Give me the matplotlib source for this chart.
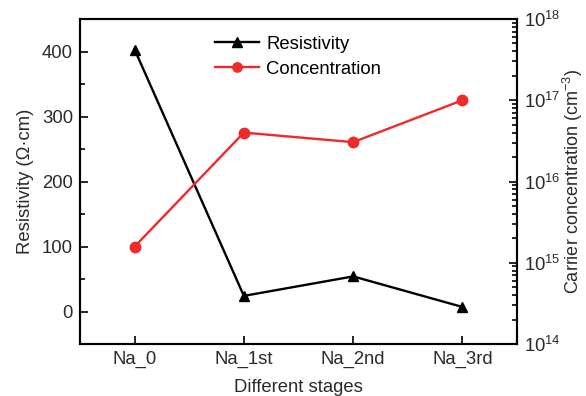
import numpy as np
import matplotlib
matplotlib.use("Agg")
import matplotlib.pyplot as plt
from matplotlib.ticker import LogLocator, NullFormatter, MultipleLocator

plt.rcParams['font.family'] = ['Liberation Sans', 'DejaVu Sans']
plt.rcParams['mathtext.fontset'] = 'custom'
plt.rcParams['mathtext.rm'] = 'Liberation Sans'

stages = ["Na_0", "Na_1st", "Na_2nd", "Na_3rd"]
resistivity = [403, 24, 54, 7]
concentration = [1.58e15, 4.0e16, 3.05e16, 1.0e17]

col_red = '#ee2a2a'
txt = '#2a2a2a'

fig = plt.figure(figsize=(5.86, 3.96), dpi=100)
ax = fig.add_axes([80/586, 1-344/396, 437/586, 325/396])
ax2 = ax.twinx()

x = np.arange(len(stages))
l1, = ax.plot(x, resistivity, '-^', color='black', lw=1.7, ms=7.5, label='Resistivity')
l2, = ax2.plot(x, concentration, '-o', color=col_red, lw=1.7, ms=7.5, label='Concentration')

ax.set_xlim(-0.5, 3.5)
ax.set_ylim(-50, 450)
ax.yaxis.set_major_locator(MultipleLocator(100))
ax.yaxis.set_minor_locator(MultipleLocator(50))
ax.set_xticks(x)
ax.set_xticklabels(stages)

ax2.set_yscale('log')
ax2.set_ylim(1e14, 1e18)
ax2.yaxis.set_major_locator(LogLocator(base=10, numticks=10))
ax2.yaxis.set_minor_locator(LogLocator(base=10, subs=np.arange(2, 10), numticks=10))
ax2.yaxis.set_minor_formatter(NullFormatter())

for a in (ax, ax2):
    for s in a.spines.values():
        s.set_linewidth(1.5)
    a.tick_params(which='both', direction='in', width=1.2, labelsize=13.3,
                  colors='black', labelcolor=txt, pad=5)
    a.tick_params(which='major', length=6)
    a.tick_params(which='minor', length=3.5)

ax.set_xlabel('Different stages', fontsize=13.3, color=txt, labelpad=8)
ax.set_ylabel('Resistivity (\u03a9\u00b7cm)', fontsize=13.3, color=txt, labelpad=6)
ax2.set_ylabel('Carrier concentration (cm$^{-3}$)', fontsize=13, color=txt)
ax2.yaxis.set_label_coords(1.1, 0.5)

ax.legend([l1, l2], ['Resistivity', 'Concentration'], loc='upper left',
          bbox_to_anchor=(0.27, 1.0), frameon=False, fontsize=13.3,
          handlelength=2.4, handletextpad=0.4, labelspacing=0.45, markerscale=0.9)

fig.savefig('out.png', dpi=100)
